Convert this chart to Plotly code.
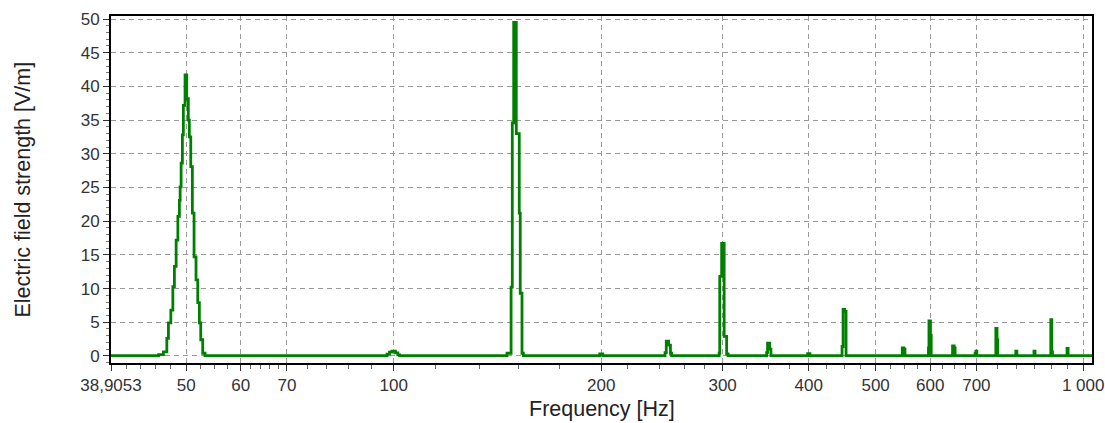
import plotly.graph_objects as go

# Spectrum steps: each value holds from its frequency up to the next one
freq_hz = [
    38.9053,
    # 50 Hz fundamental
    45.6, 46.35, 46.88, 47.13, 47.51, 47.83, 48.08, 48.36, 48.64, 48.89, 49.01,
    49.17, 49.38, 49.54, 49.82, 50.10, 50.37, 50.54, 50.78, 51.05, 51.34, 51.68,
    51.98, 52.26, 52.50, 52.85, 53.26,
    # 100 Hz
    97.8, 98.6, 99.4, 100.6, 101.4, 102.0,
    # 150 Hz
    146.0, 148.0, 148.6, 149.3, 150.6, 152.1, 152.6, 153.5, 154.2,
    # 200 Hz
    199.0, 201.0,
    # 250 Hz
    247.5, 248.5, 250.5, 252.0, 253.0,
    # 300 Hz
    296.5, 297.1, 299.0, 301.5, 304.0, 305.5,
    # 350 Hz
    347.5, 348.5, 351.0, 352.5,
    # 400 Hz
    398.5, 401.5,
    # 450 Hz
    447.0, 448.5, 451.0, 453.0,
    # 550 Hz
    546.5, 549.5, 551.5,
    # 600 Hz
    596.5, 597.5, 600.5, 602.0,
    # 650 Hz
    646.5, 650.0, 652.0,
    # 700 Hz
    697.0, 699.0, 701.0,
    # 750 Hz
    747.0, 750.0, 751.5,
    # 800 / 850 Hz
    798.5, 801.5, 848.5, 851.5,
    # 900 Hz
    897.5, 900.5, 902.5,
    # 950 Hz
    947.5, 951.0,
    1030.0,
]

field_vm = [
    0.05,
    # 50 Hz fundamental
    0.2, 0.6, 2.6, 4.9, 6.8, 10.3, 13.3, 17.2, 20.7, 23.1, 25.1,
    28.6, 32.8, 37.2, 41.7, 38.2, 35.0, 32.5, 28.1, 21.2, 14.7, 11.3,
    7.9, 4.9, 2.4, 0.4, 0.05,
    # 100 Hz
    0.25, 0.55, 0.7, 0.45, 0.15, 0.05,
    # 150 Hz
    0.4, 10.2, 34.6, 49.5, 33.0, 21.2, 9.3, 0.4, 0.05,
    # 200 Hz
    0.3, 0.05,
    # 250 Hz
    0.5, 2.2, 1.6, 0.4, 0.05,
    # 300 Hz
    0.4, 11.8, 16.7, 2.9, 0.3, 0.05,
    # 350 Hz
    0.5, 1.9, 1.0, 0.05,
    # 400 Hz
    0.35, 0.05,
    # 450 Hz
    1.4, 6.9, 6.6, 0.05,
    # 550 Hz
    1.2, 1.0, 0.05,
    # 600 Hz
    1.2, 5.2, 3.1, 0.05,
    # 650 Hz
    1.5, 1.2, 0.05,
    # 700 Hz
    0.4, 0.7, 0.05,
    # 750 Hz
    4.1, 2.4, 0.05,
    # 800 / 850 Hz
    0.7, 0.05, 0.7, 0.05,
    # 900 Hz
    5.4, 0.6, 0.05,
    # 950 Hz
    1.1, 0.05,
    0.05,
]

x_tick_vals = [38.9053, 50, 60, 70, 100, 200, 300, 400, 500, 600, 700, 1000]
x_tick_text = ["38,9053", "50", "60", "70", "100", "200", "300", "400",
               "500", "600", "700", "1 000"]
x_minor_vals = [41, 43, 45.2, 47.5, 52.5, 55, 57.5, 62, 64, 66, 68,
                75, 80, 86, 93, 115, 133, 151.5, 174,
                218, 243, 264, 282, 325, 350, 375, 425, 450, 475,
                525, 550, 575, 625, 650, 675, 750, 800, 850, 900, 950]
y_tick_vals = list(range(0, 51, 5))

fig = go.Figure()
fig.add_trace(go.Scatter(
    x=freq_hz, y=field_vm, mode="lines",
    line=dict(color="rgb(0,128,0)", width=2.8, shape="hv"),
    hoverinfo="x+y", showlegend=False,
))

tick_font = dict(family="Liberation Sans, Arial, sans-serif", size=17, color="#333333")
title_font = dict(family="Liberation Sans, Arial, sans-serif", size=21.5, color="#222222")

fig.update_layout(
    width=1105, height=423,
    margin=dict(l=111, r=13, t=16, b=60),
    paper_bgcolor="white", plot_bgcolor="white",
)
fig.update_xaxes(
    type="log",
    range=[1.59001, 3.0128],
    automargin=False,
    tickmode="array", tickvals=x_tick_vals, ticktext=x_tick_text,
    tickfont=tick_font,
    ticks="outside", ticklen=6, tickwidth=1, tickcolor="#333333",
    showgrid=True, gridcolor="#9a9a9a", gridwidth=1, griddash="5px,4px",
    minor=dict(tickvals=x_minor_vals, ticks="outside", ticklen=4,
               tickcolor="#666666", showgrid=False),
    showline=True, linecolor="black", linewidth=2, mirror=True,
    zeroline=False,
)
fig.update_yaxes(
    range=[-1.05, 50.45],
    automargin=False,
    tickmode="array", tickvals=y_tick_vals,
    tickfont=tick_font,
    ticks="outside", ticklen=6, tickwidth=1, tickcolor="#333333",
    showgrid=True, gridcolor="#9a9a9a", gridwidth=1, griddash="5px,4px",
    minor=dict(dtick=1, ticks="outside", ticklen=3, tickcolor="#777777",
               showgrid=False),
    showline=True, linecolor="black", linewidth=2, mirror=True,
    zeroline=False,
)

# Axis titles placed as paper-anchored text
fig.add_annotation(
    text="Frequency [Hz]", font=title_font, showarrow=False,
    xref="paper", yref="paper", x=0.5, y=0, xanchor="center", yanchor="top",
    yshift=-32,
)
fig.add_annotation(
    text="Electric field strength [V/m]", font=title_font, showarrow=False,
    textangle=-90, xref="paper", yref="paper", x=0, y=0.5,
    xanchor="center", yanchor="middle", xshift=-89,
)

fig.write_html("out.html")
